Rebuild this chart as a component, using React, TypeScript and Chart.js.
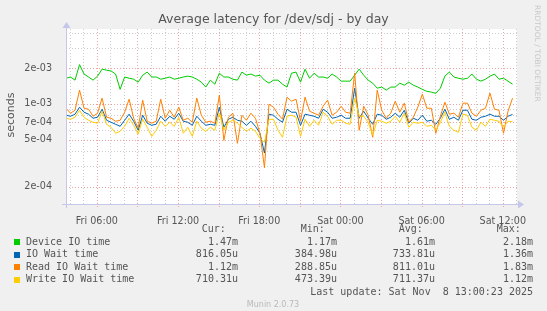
import React, { useEffect, useRef } from 'react';
import { Chart, registerables } from 'chart.js';

Chart.register(...registerables);

// ---- time axis (hours counted from Fri 00:00), samples every 20 minutes ----
const START_HOUR = 3.72;
const END_HOUR = 37.05;
const STEP_HOURS = 1 / 3;

// ---- series values, in milliseconds (converted to seconds for the axis) ----
const deviceIOms = [
  1.65, 1.69, 1.59, 2.15, 1.79, 1.69, 1.59, 1.72, 1.97, 1.93,
  1.90, 1.79, 1.33, 1.69, 1.65, 1.62, 1.53, 1.75, 1.86, 1.69,
  1.69, 1.62, 1.65, 1.69, 1.62, 1.65, 1.69, 1.72, 1.69, 1.62,
  1.53, 1.39, 1.59, 1.47, 1.82, 1.69, 1.69, 1.62, 1.59, 1.86,
  1.75, 1.79, 1.72, 1.75, 1.59, 1.50, 1.59, 1.59, 1.47, 1.39,
  1.82, 1.86, 1.53, 1.97, 1.65, 1.82, 1.69, 1.69, 1.65, 1.79,
  1.69, 1.56, 1.56, 1.56, 1.75, 1.97, 1.75, 1.59, 1.50, 1.36,
  1.39, 1.31, 1.39, 1.39, 1.50, 1.44, 1.53, 1.44, 1.39, 1.33,
  1.28, 1.26, 1.23, 1.36, 1.72, 1.86, 1.69, 1.65, 1.62, 1.65,
  1.79, 1.62, 1.56, 1.62, 1.72, 1.79, 1.62, 1.65, 1.56, 1.47,
];
const ioWaitMs = [
  0.804, 0.788, 0.820, 0.940, 0.852, 0.820, 0.758, 0.773, 0.903, 0.729,
  0.701, 0.674, 0.648, 0.729, 0.820, 0.715, 0.600, 0.804, 0.688, 0.661,
  0.674, 0.788, 0.715, 0.788, 0.743, 0.836, 0.715, 0.701, 0.661, 0.788,
  0.715, 0.661, 0.674, 0.661, 0.940, 0.636, 0.743, 0.773, 0.729, 0.715,
  0.661, 0.715, 0.648, 0.566, 0.385, 0.820, 0.804, 0.743, 0.701, 0.903,
  0.852, 0.852, 0.661, 0.820, 0.804, 0.788, 0.758, 0.903, 0.852, 0.758,
  0.773, 0.804, 0.758, 0.758, 1.36, 0.758, 0.869, 0.758, 0.674, 0.820,
  0.804, 0.743, 0.773, 0.836, 0.773, 0.886, 0.688, 0.758, 0.729, 0.804,
  0.715, 0.729, 0.674, 0.758, 0.903, 0.743, 0.773, 0.729, 0.886, 0.886,
  0.743, 0.729, 0.773, 0.788, 0.820, 0.788, 0.788, 0.729, 0.788, 0.816,
];
const readWaitMs = [
  0.921, 0.836, 0.886, 1.309, 0.921, 0.903, 0.788, 0.836, 1.120, 0.773,
  0.758, 0.715, 0.729, 0.852, 1.098, 0.758, 0.624, 1.077, 0.715, 0.688,
  0.715, 1.098, 0.758, 0.886, 0.773, 0.940, 0.729, 0.758, 0.701, 1.120,
  0.804, 0.701, 0.715, 0.688, 1.187, 0.493, 0.773, 0.836, 0.465, 0.804,
  0.729, 0.836, 0.758, 0.566, 0.289, 0.996, 0.940, 0.820, 0.743, 1.142,
  1.056, 1.098, 0.715, 1.142, 0.869, 0.836, 0.804, 0.958, 1.077, 0.804,
  0.852, 0.958, 0.852, 0.836, 1.83, 0.600, 0.958, 0.804, 0.523, 1.309,
  0.886, 0.758, 0.836, 1.056, 0.852, 1.016, 0.701, 0.773, 0.940, 1.211,
  0.921, 0.921, 0.566, 0.788, 1.036, 0.820, 0.836, 0.773, 1.016, 1.016,
  0.836, 0.788, 0.886, 0.921, 1.234, 0.903, 0.886, 0.566, 0.869, 1.120,
];
const writeWaitMs = [
  0.758, 0.743, 0.773, 0.886, 0.773, 0.729, 0.701, 0.688, 0.869, 0.674,
  0.636, 0.566, 0.588, 0.648, 0.758, 0.661, 0.555, 0.743, 0.636, 0.533,
  0.600, 0.715, 0.648, 0.701, 0.648, 0.773, 0.566, 0.636, 0.533, 0.715,
  0.624, 0.588, 0.636, 0.600, 0.836, 0.600, 0.701, 0.729, 0.688, 0.636,
  0.588, 0.624, 0.588, 0.513, 0.474, 0.743, 0.743, 0.600, 0.523, 0.788,
  0.804, 0.773, 0.533, 0.743, 0.648, 0.729, 0.661, 0.852, 0.788, 0.674,
  0.729, 0.729, 0.688, 0.674, 1.12, 0.788, 0.788, 0.701, 0.544, 0.729,
  0.715, 0.688, 0.715, 0.788, 0.701, 0.836, 0.636, 0.701, 0.688, 0.701,
  0.648, 0.661, 0.600, 0.701, 0.852, 0.648, 0.600, 0.577, 0.820, 0.804,
  0.636, 0.600, 0.701, 0.648, 0.743, 0.729, 0.715, 0.636, 0.715, 0.710,
];

// ---- axis ticks ----
const yTickValues = [2e-4, 5e-4, 7e-4, 1e-3, 2e-3];
const yTickLabels = ['2e-04', '5e-04', '7e-04', '1e-03', '2e-03'];
const yMinorGrid = [3e-4, 4e-4, 6e-4, 8e-4, 9e-4, 3e-3, 4e-3];
const xTickHours = [6, 12, 18, 24, 30, 36];
const xTickLabels = ['Fri 06:00', 'Fri 12:00', 'Fri 18:00', 'Sat 00:00', 'Sat 06:00', 'Sat 12:00'];
const Y_MIN = 1.43e-4;
const Y_MAX = 4.3e-3;

// ---- legend ----
const seriesNames = ['Device IO time', 'IO Wait time', 'Read IO Wait time', 'Write IO Wait time'];
const seriesColors = ['#00cc00', '#0066b3', '#ff8000', '#ffcc00'];
const curVals = ['1.47m', '816.05u', '1.12m', '710.31u'];
const minVals = ['1.17m', '384.98u', '288.85u', '473.39u'];
const avgVals = ['1.61m', '733.81u', '811.01u', '711.37u'];
const maxVals = ['2.18m', '1.36m', '1.83m', '1.12m'];
const statHeaders = ['Cur:', 'Min:', 'Avg:', 'Max:'];

const TITLE = 'Average latency for /dev/sdj - by day';
const Y_TITLE = 'seconds';
const SIDE_TEXT = 'RRDTOOL / TOBI OETIKER';
const LAST_UPDATE = 'Last update: Sat Nov  8 13:00:23 2025';
const FOOTER = 'Munin 2.0.73';

const toPoints = (arr: number[]) =>
  arr.map((v, i) => ({ x: START_HOUR + i * STEP_HOURS, y: v * 1e-3 }));

const decorPlugin = {
  id: 'muninDecor',
  beforeDraw(chart: any) {
    const { ctx, chartArea: a } = chart;
    ctx.save();
    ctx.fillStyle = '#f0f0f0';
    ctx.fillRect(0, 0, chart.width, chart.height);
    ctx.fillStyle = '#ffffff';
    ctx.fillRect(a.left, a.top, a.right - a.left, a.bottom - a.top);
    ctx.restore();
  },
  beforeDatasetsDraw(chart: any) {
    const { ctx, chartArea: a, scales } = chart;
    const xs = scales.x;
    const ys = scales.y;
    ctx.save();
    ctx.lineWidth = 1;
    ctx.setLineDash([1, 2]);
    const minor = '#cdcdcd';
    const major = '#eba3a3';
    // horizontal
    const hLine = (v: number, c: string) => {
      const y = Math.round(ys.getPixelForValue(v)) + 0.5;
      ctx.strokeStyle = c;
      ctx.beginPath();
      ctx.moveTo(a.left, y);
      ctx.lineTo(a.right, y);
      ctx.stroke();
    };
    yMinorGrid.forEach((v) => hLine(v, minor));
    yTickValues.forEach((v) => hLine(v, major));
    // vertical
    for (let h = Math.ceil(START_HOUR); h <= END_HOUR; h++) {
      const x = Math.round(xs.getPixelForValue(h)) + 0.5;
      ctx.strokeStyle = h % 3 === 0 ? major : minor;
      ctx.beginPath();
      ctx.moveTo(x, a.top);
      ctx.lineTo(x, h % 3 === 0 ? a.bottom + 3 : a.bottom);
      ctx.stroke();
    }
    ctx.restore();
  },
  afterDraw(chart: any) {
    const { ctx, chartArea: a } = chart;
    ctx.save();
    // axes with arrows
    const axisColor = '#c6c6ea';
    ctx.strokeStyle = axisColor;
    ctx.fillStyle = axisColor;
    ctx.lineWidth = 1;
    const by = a.bottom + 0.5;
    ctx.beginPath();
    ctx.moveTo(a.left - 4, by);
    ctx.lineTo(a.right + 2, by);
    ctx.stroke();
    ctx.beginPath();
    ctx.moveTo(a.right + 1, by - 4);
    ctx.lineTo(a.right + 7, by);
    ctx.lineTo(a.right + 1, by + 4);
    ctx.closePath();
    ctx.fill();
    const lx = a.left + 0.5;
    ctx.beginPath();
    ctx.moveTo(lx, a.bottom + 4);
    ctx.lineTo(lx, a.top - 2);
    ctx.stroke();
    ctx.beginPath();
    ctx.moveTo(lx - 4, a.top - 1);
    ctx.lineTo(lx, a.top - 7);
    ctx.lineTo(lx + 4, a.top - 1);
    ctx.closePath();
    ctx.fill();

    // title
    ctx.fillStyle = '#555555';
    ctx.font = '12.5px "DejaVu Sans"';
    ctx.textAlign = 'center';
    ctx.textBaseline = 'middle';
    ctx.fillText(TITLE, chart.width / 2, 20);

    // y title
    ctx.save();
    ctx.translate(11, 115);
    ctx.rotate(-Math.PI / 2);
    ctx.font = '11px "DejaVu Sans"';
    ctx.fillText(Y_TITLE, 0, 0);
    ctx.restore();

    // side text
    ctx.save();
    ctx.translate(537, 5);
    ctx.rotate(Math.PI / 2);
    ctx.fillStyle = '#c8c8c8';
    ctx.font = '7.5px "DejaVu Sans"';
    ctx.textAlign = 'left';
    ctx.fillText(SIDE_TEXT, 0, 0);
    ctx.restore();

    // legend
    ctx.font = '10px "DejaVu Sans Mono"';
    ctx.fillStyle = '#555555';
    const headerY = 229.5;
    const rowY = [242, 254.6, 267.2, 279.8];
    const valRight = [238, 337, 435, 533];
    ctx.textAlign = 'right';
    statHeaders.forEach((h, i) => ctx.fillText(h, valRight[i] - 12.2, headerY));
    seriesNames.forEach((name, r) => {
      const y = rowY[r];
      ctx.fillStyle = seriesColors[r];
      ctx.fillRect(14, Math.round(y) - 3, 6, 6);
      ctx.fillStyle = '#555555';
      ctx.textAlign = 'left';
      ctx.fillText(name, 26, y);
      ctx.textAlign = 'right';
      [curVals, minVals, avgVals, maxVals].forEach((col, c) => {
        ctx.fillText(col[r], valRight[c], y);
      });
    });
    ctx.fillText(LAST_UPDATE, 533, 292.3);

    // footer
    ctx.textAlign = 'center';
    ctx.fillStyle = '#b9b9b9';
    ctx.font = '8px "DejaVu Sans"';
    ctx.fillText(FOOTER, 273, 305);
    ctx.restore();
  },
};

export default function App() {
  const ref = useRef<HTMLCanvasElement | null>(null);
  useEffect(() => {
    if (!ref.current) return;
    const series = [deviceIOms, ioWaitMs, readWaitMs, writeWaitMs];
    const chart = new Chart(ref.current, {
      type: 'line',
      data: {
        datasets: series.map((s, i) => ({
          label: seriesNames[i],
          data: toPoints(s),
          borderColor: seriesColors[i],
          backgroundColor: seriesColors[i],
          borderWidth: 1,
          pointRadius: 0,
          tension: 0,
          fill: false,
          order: 3 - i,
        })),
      },
      options: {
        responsive: false,
        animation: false,
        events: [],
        layout: { padding: { top: 29, right: 30, left: 0, bottom: 0 } },
        plugins: {
          legend: { display: false },
          title: { display: false },
          tooltip: { enabled: false },
        },
        scales: {
          x: {
            type: 'linear',
            min: START_HOUR,
            max: END_HOUR,
            grid: { display: false },
            border: { display: false },
            afterBuildTicks: (s: any) => {
              s.ticks = xTickHours.map((v) => ({ value: v }));
            },
            afterFit: (s: any) => {
              s.height = 107;
            },
            ticks: {
              autoSkip: false,
              maxRotation: 0,
              padding: 4,
              color: '#555555',
              font: { family: 'DejaVu Sans', size: 9.6 },
              callback: (v: any) => {
                const k = xTickHours.indexOf(Number(v));
                return k >= 0 ? xTickLabels[k] : '';
              },
            },
          },
          y: {
            type: 'logarithmic',
            min: Y_MIN,
            max: Y_MAX,
            grid: { display: false },
            border: { display: false },
            afterBuildTicks: (s: any) => {
              s.ticks = yTickValues.map((v) => ({ value: v }));
            },
            afterFit: (s: any) => {
              s.width = 66;
            },
            ticks: {
              padding: 6,
              color: '#555555',
              font: { family: 'DejaVu Sans', size: 9.6 },
              callback: (v: any) => {
                const k = yTickValues.findIndex((t) => Math.abs(t - Number(v)) < t * 1e-6);
                return k >= 0 ? yTickLabels[k] : '';
              },
            },
          },
        },
      } as any,
      plugins: [decorPlugin],
    });
    return () => chart.destroy();
  }, []);

  return (
    <div style={{ position: 'absolute', left: 0, top: 0, width: 547, height: 311, background: '#f0f0f0' }}>
      <canvas ref={ref} width={547} height={311} style={{ display: 'block', width: 547, height: 311 }} />
    </div>
  );
}
